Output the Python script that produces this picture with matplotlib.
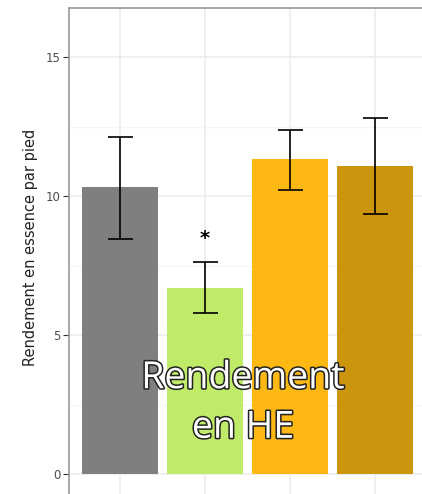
import matplotlib.pyplot as plt
import matplotlib.patheffects as pe

# donnees
groupes = [1, 2, 3, 4]
rendement = [10.32, 6.69, 11.33, 11.08]
err_haut = [12.12, 7.63, 12.37, 12.81]
err_bas = [8.45, 5.79, 10.22, 9.35]
couleurs = ['#7f7f7f', '#bfeb69', '#fdb813', '#cc950e']
signif = {2: '*'}

W, H = 422, 494
fig = plt.figure(figsize=(W / 100, H / 100), dpi=100)

# axes qui debordent a droite et en bas (image recadree)
x0, x1 = 69, 440
y0, y1 = 8, 510
ax = fig.add_axes([x0 / W, 1 - y1 / H, (x1 - x0) / W, (y1 - y0) / H])

px_unit = 85.0
ax.set_xlim(0.4, 0.4 + (x1 - x0) / px_unit)
py_unit = 27.8
ax.set_ylim((474 - y1) / py_unit, (474 - y0) / py_unit)

yerr = [[r - b for r, b in zip(rendement, err_bas)],
        [h - r for r, h in zip(rendement, err_haut)]]

ax.set_yticks([0, 5, 10, 15])
ax.set_yticks([2.5, 7.5, 12.5], minor=True)
ax.set_xticks(groupes)
ax.grid(True, which='major', color='#ebebeb', lw=1.1, zorder=0)
ax.grid(True, which='minor', axis='y', color='#f5f5f5', lw=0.8, zorder=0)
ax.set_axisbelow(True)

ax.bar(groupes, rendement, width=0.9, color=couleurs, zorder=2)
ax.errorbar(groupes, rendement, yerr=yerr, fmt='none', ecolor='black',
            elinewidth=1.2, capsize=9, capthick=1.2, zorder=3)

for g, s in signif.items():
    ax.text(g, err_haut[g - 1] + 0.5, s, ha='center', va='bottom',
            fontsize=14, fontweight='bold')

for sp in ['right', 'bottom']:
    ax.spines[sp].set_visible(False)
for sp in ['left', 'top']:
    ax.spines[sp].set_color('#9a9a9a')
    ax.spines[sp].set_linewidth(1.2)

ax.tick_params(axis='y', which='major', length=4, color='#333333',
               labelsize=8.5, labelcolor='#4d4d4d', pad=2)
ax.tick_params(axis='y', which='minor', length=0)
ax.tick_params(axis='x', length=0, labelbottom=False)

ax.set_ylabel('Rendement en essence par pied', fontsize=10.5, color='#222222')
ax.yaxis.set_label_coords(-0.084, 0.524)

fig.text(243 / W, 1 - 403 / H, 'Rendement\nen HE', ha='center', va='center',
         fontsize=27, family='Open Sans', color='white', linespacing=1.4,
         path_effects=[pe.withStroke(linewidth=2.2, foreground='#222222')])

fig.savefig('out.png', dpi=100)
